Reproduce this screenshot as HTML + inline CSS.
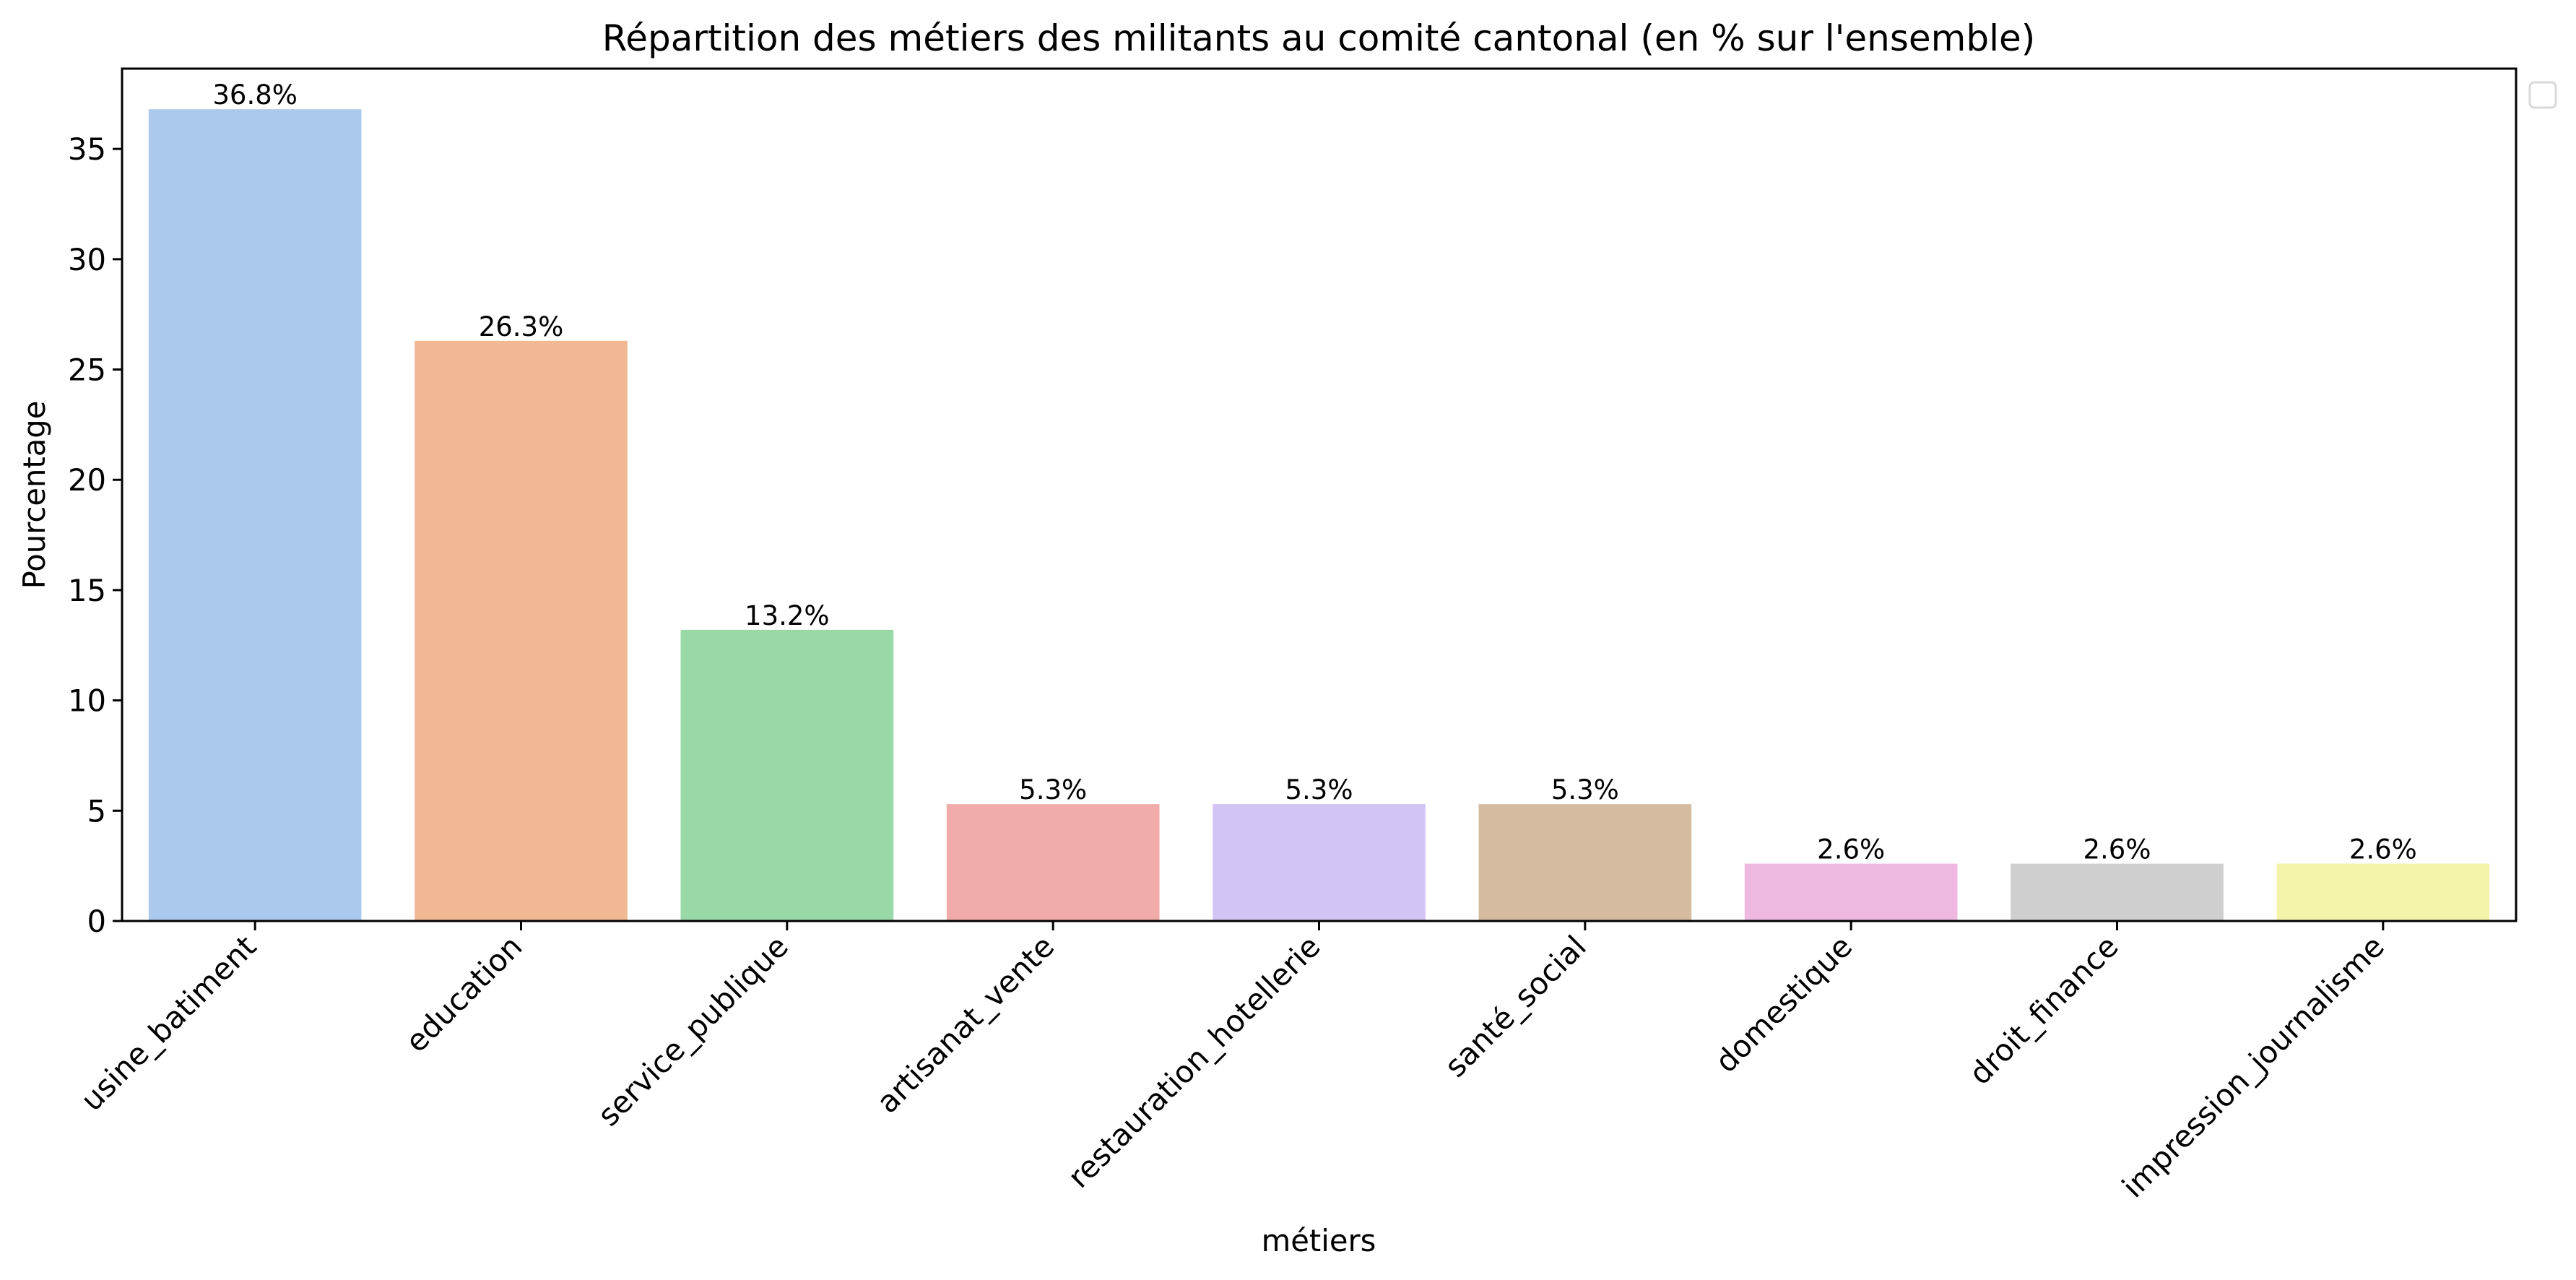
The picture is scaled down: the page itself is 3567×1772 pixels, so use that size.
<!DOCTYPE html>
<html><head><meta charset="utf-8"><style>
body{margin:0;background:#fff}
svg text{font-family:"DejaVu Sans","Liberation Sans",sans-serif;fill:#000}
</style></head><body>
<svg id="chart" width="3567" height="1767" viewBox="0 0 3567 1767" xmlns="http://www.w3.org/2000/svg">
<rect width="3567" height="1767" fill="#fff"/>
<text x="1826" y="70" font-size="50" text-anchor="middle">Répartition des métiers des militants au comité cantonal (en % sur l'ensemble)</text>
<g id="bars"></g>
<g id="yaxis"></g>
<g id="xaxis"></g>
<rect x="169" y="95" width="3315" height="1180" fill="none" stroke="#000" stroke-width="3"/>
<text transform="translate(62,685) rotate(-90)" font-size="41.7" text-anchor="middle">Pourcentage</text>
<text x="1826" y="1732" font-size="41.7" text-anchor="middle">métiers</text>
<rect x="3503" y="114" width="36" height="35" rx="6" fill="#fff" stroke="#d9d9d9" stroke-width="3"/>
</svg>
<script>
const categories=["usine_batiment","education","service_publique","artisanat_vente","restauration_hotellerie","santé_social","domestique","droit_finance","impression_journalisme"];
const values=[36.8,26.3,13.2,5.3,5.3,5.3,2.6,2.6,2.6];
const valueLabels=["36.8%","26.3%","13.2%","5.3%","5.3%","5.3%","2.6%","2.6%","2.6%"];
const colors=["#abc9ed","#f1b894","#99d9a7","#f1aca9","#d3c4f6","#d5bba0","#efb8e0","#cfcfcf","#f4f3aa"];
const yTicks=[0,5,10,15,20,25,30,35];
const X0=169,X1=3484,Y0=1275,Y1=95,YMAX=38.64;
const ns="http://www.w3.org/2000/svg";
const band=(X1-X0)/categories.length;
function xc(i){return X0+band*(i+0.5);}
function y(v){return Y0-(v/YMAX)*(Y0-Y1);}
function mk(t,a,p){const e=document.createElementNS(ns,t);for(const k in a)e.setAttribute(k,a[k]);p.appendChild(e);return e;}
const gb=document.getElementById('bars'),gy=document.getElementById('yaxis'),gx=document.getElementById('xaxis');
values.forEach((v,i)=>{
  const w=band*0.8;
  const r=mk('rect',{x:xc(i)-w/2,y:y(v),width:w,height:Y0-y(v),fill:colors[i]},gb);
  
  
  const t=mk('text',{x:xc(i),y:y(v)-7,'font-size':37,'text-anchor':'middle'},gb);
  t.textContent=valueLabels[i];
  
  
  const tk=mk('line',{x1:xc(i),x2:xc(i),y1:Y0,y2:Y0+13,stroke:'#000','stroke-width':3},gx);
  
  
  const lx=xc(i)+4,ly=Y0+38;
  const l=mk('text',{x:lx,y:ly,'font-size':41.7,'text-anchor':'end',transform:`rotate(-45 ${lx} ${ly})`},gx);
  l.textContent=categories[i];
  
  
});
yTicks.forEach(v=>{
  const tk=mk('line',{x1:X0-13,x2:X0,y1:y(v),y2:y(v),stroke:'#000','stroke-width':3},gy);
  
  
  const t=mk('text',{x:X0-22,y:y(v)+15,'font-size':41.7,'text-anchor':'end'},gy);
  t.textContent=v;
  
  
});
</script>
</body></html>
